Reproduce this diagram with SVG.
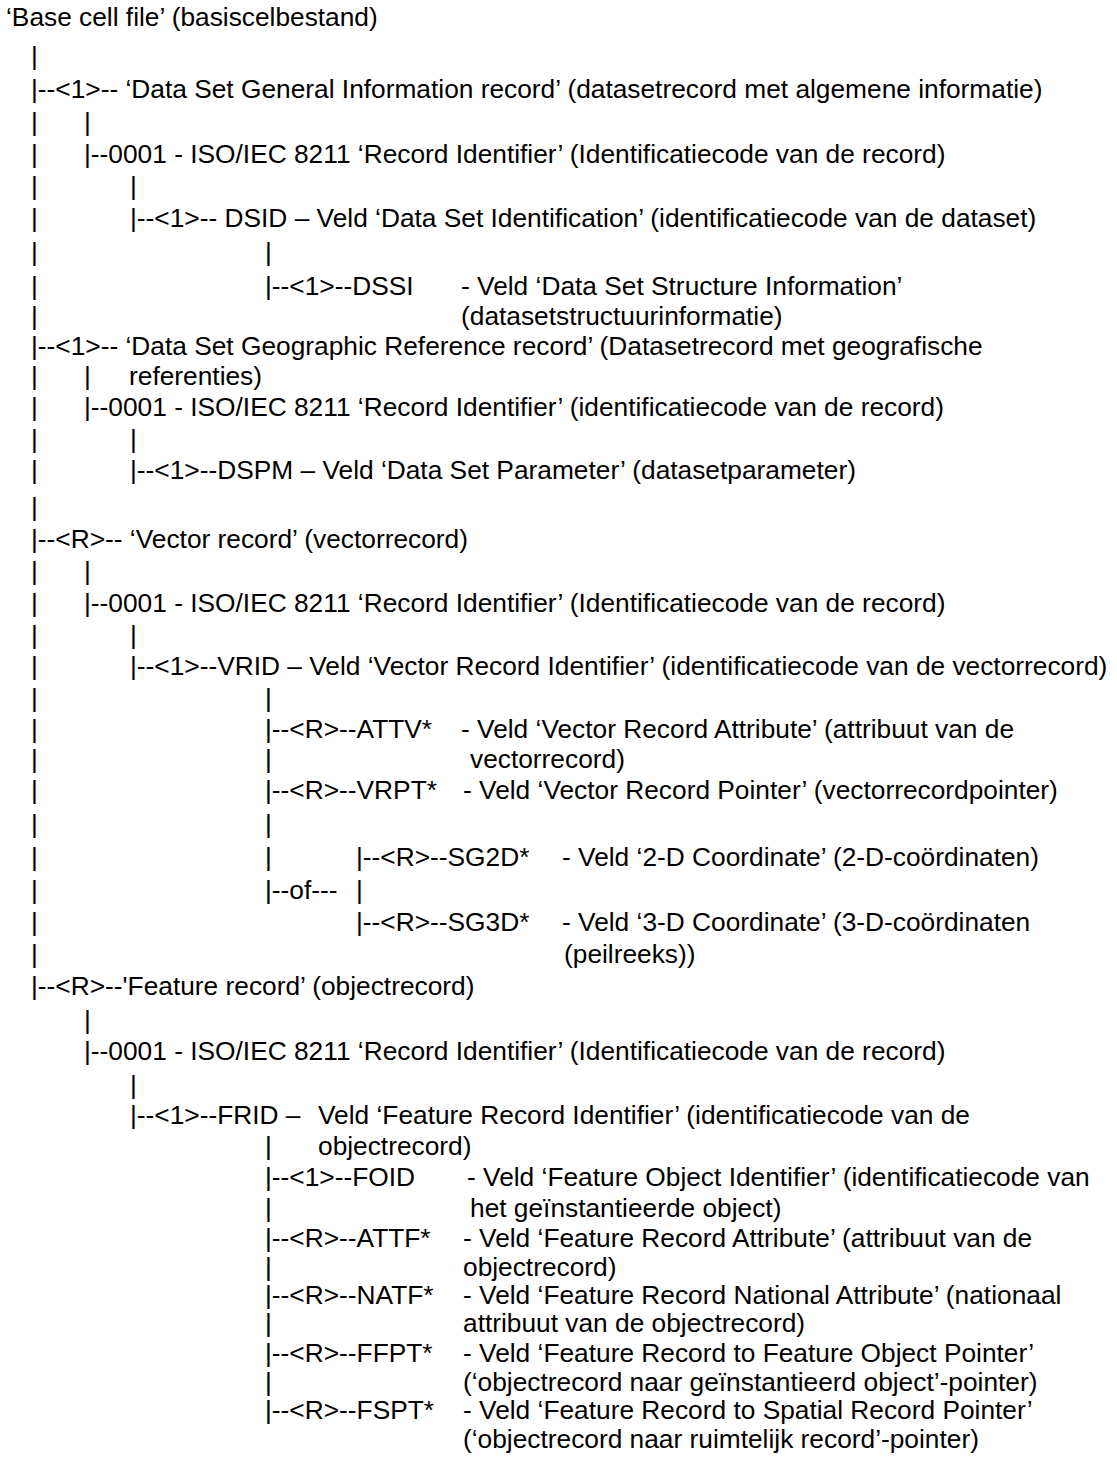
<svg xmlns="http://www.w3.org/2000/svg" width="1117" height="1479" viewBox="0 0 1117 1479">
<style>
text{font-family:"Liberation Sans",Arial,sans-serif;font-size:26.3px;fill:#000}
</style>
<rect width="1117" height="1479" fill="#fff"/>
<g id="connectors">
<text x="31" y="65">|</text>
<text x="31" y="131">|</text><text x="84" y="131">|</text>
<text x="31" y="163">|</text>
<text x="31" y="195">|</text><text x="130" y="195">|</text>
<text x="31" y="227">|</text>
<text x="31" y="261">|</text><text x="265" y="261">|</text>
<text x="31" y="295">|</text>
<text x="31" y="325">|</text>
<text x="31" y="385">|</text><text x="84" y="385">|</text>
<text x="31" y="416">|</text>
<text x="31" y="448">|</text><text x="130" y="448">|</text>
<text x="31" y="479">|</text>
<text x="31" y="516">|</text>
<text x="31" y="580">|</text><text x="84" y="580">|</text>
<text x="31" y="612">|</text>
<text x="31" y="644">|</text><text x="130" y="644">|</text>
<text x="31" y="675">|</text>
<text x="31" y="707">|</text><text x="265" y="707">|</text>
<text x="31" y="738">|</text>
<text x="31" y="768">|</text><text x="265" y="768">|</text>
<text x="31" y="799">|</text>
<text x="31" y="833">|</text><text x="265" y="833">|</text>
<text x="31" y="866">|</text><text x="265" y="866">|</text>
<text x="31" y="899">|</text><text x="265" y="899">|--of---</text><text x="356" y="899">|</text>
<text x="31" y="931">|</text>
<text x="31" y="963">|</text>
<text x="84" y="1029">|</text>
<text x="130" y="1094">|</text>
<text x="265" y="1155">|</text>
<text x="265" y="1217">|</text>
<text x="265" y="1276">|</text>
<text x="265" y="1332">|</text>
<text x="265" y="1391">|</text>
</g>
<g id="base-cell-file"><text x="6" y="26">‘Base cell file’ (basiscelbestand)</text></g>
<g id="dsgi-record"><text x="31" y="98">|--&lt;1&gt;-- ‘Data Set General Information record’ (datasetrecord met algemene informatie)</text></g>
<g id="dsgi-0001"><text x="84" y="163">|--0001 - ISO/IEC 8211 ‘Record Identifier’ (Identificatiecode van de record)</text></g>
<g id="dsid"><text x="130" y="227">|--&lt;1&gt;-- DSID – Veld ‘Data Set Identification’ (identificatiecode van de dataset)</text></g>
<g id="dssi"><text x="265" y="295">|--&lt;1&gt;--DSSI</text><text x="461" y="295">- Veld ‘Data Set Structure Information’</text><text x="461" y="325">(datasetstructuurinformatie)</text></g>
<g id="dsgr-record"><text x="31" y="355">|--&lt;1&gt;-- ‘Data Set Geographic Reference record’ (Datasetrecord met geografische</text><text x="129" y="385">referenties)</text></g>
<g id="dsgr-0001"><text x="84" y="416">|--0001 - ISO/IEC 8211 ‘Record Identifier’ (identificatiecode van de record)</text></g>
<g id="dspm"><text x="130" y="479">|--&lt;1&gt;--DSPM – Veld ‘Data Set Parameter’ (datasetparameter)</text></g>
<g id="vector-record"><text x="31" y="548">|--&lt;R&gt;-- ‘Vector record’ (vectorrecord)</text></g>
<g id="vr-0001"><text x="84" y="612">|--0001 - ISO/IEC 8211 ‘Record Identifier’ (Identificatiecode van de record)</text></g>
<g id="vrid"><text x="130" y="675">|--&lt;1&gt;--VRID – Veld ‘Vector Record Identifier’ (identificatiecode van de vectorrecord)</text></g>
<g id="attv"><text x="265" y="738">|--&lt;R&gt;--ATTV*</text><text x="461" y="738">- Veld ‘Vector Record Attribute’ (attribuut van de</text><text x="470" y="768">vectorrecord)</text></g>
<g id="vrpt"><text x="265" y="799">|--&lt;R&gt;--VRPT*</text><text x="463" y="799">- Veld ‘Vector Record Pointer’ (vectorrecordpointer)</text></g>
<g id="sg2d"><text x="356" y="866">|--&lt;R&gt;--SG2D*</text><text x="562" y="866">- Veld ‘2-D Coordinate’ (2-D-coördinaten)</text></g>
<g id="sg3d"><text x="356" y="931">|--&lt;R&gt;--SG3D*</text><text x="562" y="931">- Veld ‘3-D Coordinate’ (3-D-coördinaten</text><text x="564" y="963">(peilreeks))</text></g>
<g id="feature-record"><text x="31" y="995">|--&lt;R&gt;--'Feature record’ (objectrecord)</text></g>
<g id="fr-0001"><text x="84" y="1060">|--0001 - ISO/IEC 8211 ‘Record Identifier’ (Identificatiecode van de record)</text></g>
<g id="frid"><text x="130" y="1124">|--&lt;1&gt;--FRID –</text><text x="318" y="1124">Veld ‘Feature Record Identifier’ (identificatiecode van de</text><text x="318" y="1155">objectrecord)</text></g>
<g id="foid"><text x="265" y="1186">|--&lt;1&gt;--FOID</text><text x="467" y="1186">- Veld ‘Feature Object Identifier’ (identificatiecode van</text><text x="470" y="1217">het geïnstantieerde object)</text></g>
<g id="attf"><text x="265" y="1247">|--&lt;R&gt;--ATTF*</text><text x="463" y="1247">- Veld ‘Feature Record Attribute’ (attribuut van de</text><text x="463" y="1276">objectrecord)</text></g>
<g id="natf"><text x="265" y="1304">|--&lt;R&gt;--NATF*</text><text x="463" y="1304">- Veld ‘Feature Record National Attribute’ (nationaal</text><text x="463" y="1332">attribuut van de objectrecord)</text></g>
<g id="ffpt"><text x="265" y="1362">|--&lt;R&gt;--FFPT*</text><text x="463" y="1362">- Veld ‘Feature Record to Feature Object Pointer’</text><text x="463" y="1391">(‘objectrecord naar geïnstantieerd object’-pointer)</text></g>
<g id="fspt"><text x="265" y="1419">|--&lt;R&gt;--FSPT*</text><text x="463" y="1419">- Veld ‘Feature Record to Spatial Record Pointer’</text><text x="463" y="1448">(‘objectrecord naar ruimtelijk record’-pointer)</text></g>
</svg>
